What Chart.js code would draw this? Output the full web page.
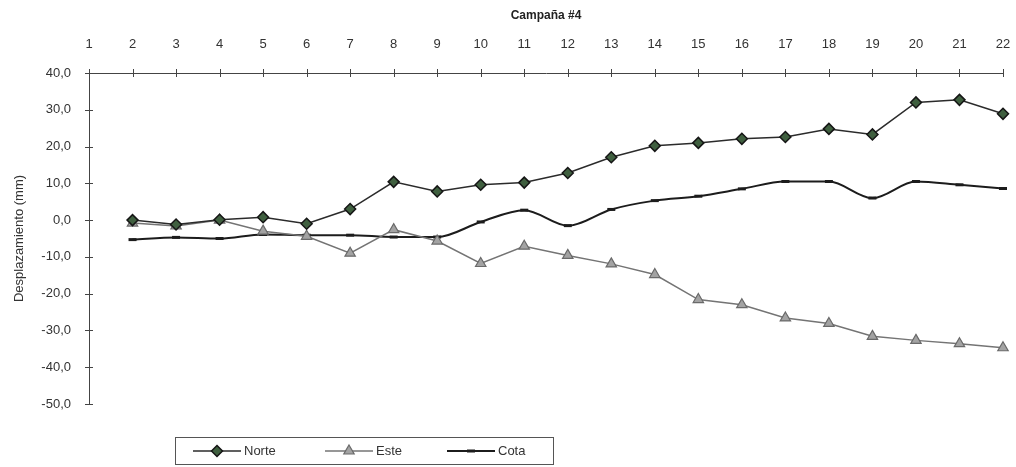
<!DOCTYPE html>
<html>
<head>
<meta charset="utf-8">
<script src="https://cdn.jsdelivr.net/npm/chart.js@4.4.0/dist/chart.umd.min.js"></script>
<style>
  html, body { margin: 0; padding: 0; background: #fff; }
  #wrap { width: 1016px; height: 467px; }
</style>
</head>
<body>
<div id="wrap"><canvas id="myChart" width="1016" height="467"></canvas></div>
<script>
// campaigns on the top axis
var campanas = ["1", "2", "3", "4", "5", "6", "7", "8", "9", "10", "11",
    "12", "13", "14", "15", "16", "17", "18", "19", "20", "21", "22"];

// displacements in mm (campaign 1 has no reading)
var norte = [null, 0.0, -1.2, 0.1, 0.8, -1.0, 3.0, 10.4, 7.8, 9.6, 10.2,
    12.8, 17.1, 20.2, 21.0, 22.1, 22.6, 24.8, 23.3, 32.0, 32.7, 28.9];
var este = [null, -0.8, -1.6, 0.0, -3.0, -4.4, -9.0, -2.6, -5.7, -11.8, -7.1,
    -9.6, -11.9, -14.8, -21.6, -23.0, -26.6, -28.1, -31.6, -32.7, -33.6, -34.7];
var cota = [null, -5.3, -4.7, -5.0, -3.9, -4.1, -4.1, -4.6, -4.6, -0.5, 2.7,
    -1.5, 2.9, 5.3, 6.5, 8.5, 10.5, 10.5, 6.0, 10.5, 9.6, 8.6];

var yTicks = [-50, -40, -30, -20, -10, 0, 10, 20, 30, 40];

var fontName = "'Liberation Sans', Arial, sans-serif";

// Excel style tick marks that cross the axis line
var crossTicks = {
    id: 'crossTicks',
    afterDraw: function(chart) {
        var c = chart.ctx;
        var x = chart.scales.x, y = chart.scales.y;
        c.save();
        c.strokeStyle = '#444';
        c.lineWidth = 1;
        c.beginPath();
        for (var i = 0; i < x.ticks.length; i++) {
            var px = Math.round(x.getPixelForTick(i)) + 0.5;
            c.moveTo(px, x.bottom - 4);
            c.lineTo(px, x.bottom + 4);
        }
        for (var j = 0; j < y.ticks.length; j++) {
            var py = Math.round(y.getPixelForTick(j)) + 0.5;
            c.moveTo(y.right - 4, py);
            c.lineTo(y.right + 4, py);
        }
        c.stroke();
        c.restore();
    }
};

// boxed legend under the plot
var boxLegend = {
    id: 'boxLegend',
    afterDraw: function(chart) {
        var c = chart.ctx;
        var left = 175, top = 437, w = 378, h = 27;
        c.save();
        c.fillStyle = '#fff';
        c.fillRect(left, top, w, h);
        c.strokeStyle = '#555';
        c.lineWidth = 1;
        c.strokeRect(left + 0.5, top + 0.5, w, h);
        var starts = [193, 325, 447];
        var cy = top + h / 2 + 0.5;
        chart.data.datasets.forEach(function(ds, i) {
            var x0 = starts[i];
            c.strokeStyle = ds.borderColor;
            c.lineWidth = ds.borderWidth;
            c.beginPath();
            c.moveTo(x0, cy);
            c.lineTo(x0 + 48, cy);
            c.stroke();
            c.fillStyle = ds.pointBackgroundColor;
            c.strokeStyle = ds.pointBorderColor;
            c.lineWidth = ds.pointBorderWidth;
            Chart.helpers.drawPoint(c, {
                pointStyle: ds.pointStyle,
                radius: ds.pointRadius,
                rotation: 0,
                borderWidth: ds.pointBorderWidth
            }, x0 + 24, cy);
            c.fillStyle = '#333';
            c.font = '13px ' + fontName;
            c.textBaseline = 'middle';
            c.fillText(ds.label, x0 + 51, cy);
        });
        c.restore();
    }
};

var ctx = document.getElementById("myChart").getContext('2d');
var myChart = new Chart(ctx, {
    type: 'line',
    data: {
        labels: campanas,
        datasets: [{
            label: 'Norte',
            data: norte,
            borderColor: '#2b2b2b',
            borderWidth: 1.5,
            pointStyle: 'rectRot',
            pointRadius: 5.5,
            pointBackgroundColor: '#3f5f3f',
            pointBorderColor: '#151515',
            pointBorderWidth: 1.5,
            tension: 0,
            order: 1
        }, {
            label: 'Este',
            data: este,
            borderColor: '#747474',
            borderWidth: 1.5,
            pointStyle: 'triangle',
            pointRadius: 6,
            pointBackgroundColor: '#a3a3a3',
            pointBorderColor: '#6a6a6a',
            pointBorderWidth: 1.2,
            tension: 0,
            order: 2
        }, {
            label: 'Cota',
            data: cota,
            borderColor: '#1c1c1c',
            borderWidth: 2,
            pointStyle: 'line',
            pointRadius: 4,
            pointBackgroundColor: '#1c1c1c',
            pointBorderColor: '#1c1c1c',
            pointBorderWidth: 3,
            cubicInterpolationMode: 'monotone',
            order: 3
        }]
    },
    options: {
        responsive: false,
        animation: false,
        spanGaps: false,
        layout: { padding: { left: 0, right: 13, top: 0, bottom: 63 } },
        plugins: {
            legend: { display: false },
            tooltip: { enabled: false }
        },
        scales: {
            x: {
                position: 'top',
                offset: false,
                grid: { display: false },
                border: { display: true, color: '#444', width: 1 },
                ticks: {
                    color: '#333',
                    font: { family: fontName, size: 13 },
                    maxRotation: 0,
                    autoSkip: false,
                    padding: 13
                },
                title: {
                    display: true,
                    text: 'Campaña #4',
                    color: '#222',
                    font: { family: fontName, size: 12, weight: 'bold' },
                    padding: { top: 8, bottom: 4 }
                },
                afterFit: function(scale) {
                    scale.height = 73;
                    scale.paddingRight = 0;
                    scale.paddingLeft = 0;
                }
            },
            y: {
                min: -50,
                max: 40,
                grid: { display: false },
                border: { display: true, color: '#444', width: 1 },
                afterBuildTicks: function(scale) {
                    scale.ticks = yTicks.map(function(v) { return { value: v }; });
                },
                ticks: {
                    color: '#333',
                    font: { family: fontName, size: 13 },
                    padding: 10,
                    callback: function(v) { return v.toFixed(1).replace('.', ','); }
                },
                title: {
                    display: true,
                    text: 'Desplazamiento (mm)',
                    color: '#333',
                    font: { family: fontName, size: 13 },
                    padding: { top: 12, bottom: 0 }
                },
                afterFit: function(scale) { scale.width = 89; }
            }
        }
    },
    plugins: [crossTicks, boxLegend]
});
</script>
</body>
</html>
